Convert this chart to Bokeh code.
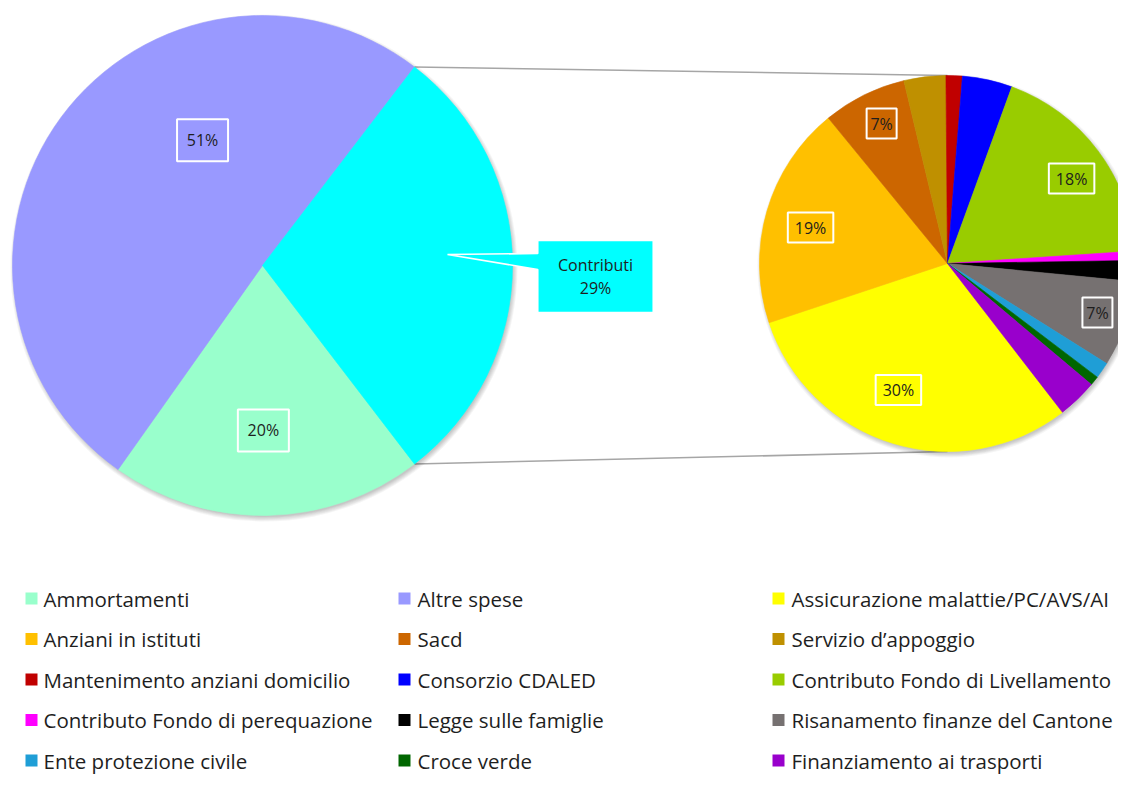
import math
from bokeh.plotting import figure
from bokeh.models import Range1d
from bokeh.embed import file_html
from bokeh.resources import INLINE
from bokeh.core.properties import value

# ---------------- data ----------------
main_categories = ["Ammortamenti", "Altre spese", "Contributi"]
main_values = [20.2, 50.6, 29.2]
main_colors = ["#99FFCC", "#9999FF", "#00FFFF"]

sub_categories = [
    "Assicurazione malattie/PC/AVS/AI",
    "Anziani in istituti",
    "Sacd",
    "Servizio d\u2019appoggio",
    "Mantenimento anziani domicilio",
    "Consorzio CDALED",
    "Contributo Fondo di Livellamento",
    "Contributo Fondo di perequazione",
    "Legge sulle famiglie",
    "Risanamento finanze del Cantone",
    "Ente protezione civile",
    "Croce verde",
    "Finanziamento ai trasporti",
]
sub_values = [30.4, 19.2, 7.2, 3.6, 1.4, 4.3, 18.4, 0.8, 1.8, 7.4, 1.4, 0.8, 3.4]
sub_colors = ["#FFFF00", "#FFC000", "#CC6600", "#BF9000", "#C00000", "#0000FF",
              "#99CC00", "#FF00FF", "#000000", "#767171", "#1F9ED6", "#006600",
              "#9900CC"]

# ---------------- layout (picture pixel coords, y down) ----------------
W, H = 1118, 774
FONT = value("Open Sans")
TXT = "#1e1e1e"

L_CX, L_CY, L_R = 262, 265, 250
R_CX, R_CY, R_R = 947, 263, 188
R_START = 142.3  # clockwise degrees from 12 o'clock where the second pie starts

# label placement: (clockwise angle from top, fraction of radius)
left_label_pos = {"Altre spese": (334.4, 0.555), "Ammortamenti": (179.7, 0.66)}
right_label_pos = {
    "Assicurazione malattie/PC/AVS/AI": (201.2, 0.722),
    "Anziani in istituti": (284.7, 0.753),
    "Sacd": (334.8, 0.823),
    "Contributo Fondo di Livellamento": (55.6, 0.80),
    "Risanamento finanze del Cantone": (108.1, 0.839),
}

CALLOUT_CX, CALLOUT_CY, CALLOUT_W, CALLOUT_H = 595, 276, 115.5, 72
CALLOUT_TIP = (447, 254)
CALLOUT_BASE = (253, 269)

LEG_MARK_X = [25, 398, 772]
LEG_TEXT_X = [43, 417, 791]
LEG_ROW_Y0, LEG_ROW_DY = 598, 40.5


def Y(y):
    return 790 - y


p = figure(width=W, height=H, output_backend="svg", toolbar_location=None,
           x_range=Range1d(0, W), y_range=Range1d(790 - H, 790),
           x_axis_location=None, y_axis_location=None, min_border=0,
           outline_line_color=None, background_fill_color="white",
           border_fill_color="white")
p.xgrid.visible = False
p.ygrid.visible = False


def slices(values, start_cw):
    tot = float(sum(values))
    out = []
    a = start_cw
    for v in values:
        b = a + v / tot * 360.0
        out.append((a, b))
        a = b
    return out


def polar(cx, cy, r, ang_cw, frac=1.0):
    t = math.radians(ang_cw)
    return cx + r * frac * math.sin(t), cy - r * frac * math.cos(t)


# --- left pie geometry: "Contributi" (last) centred on the right
contrib_share = main_values[2] / float(sum(main_values))
L_START = 90 + contrib_share * 360 / 2
left_sl = slices(main_values, L_START)
right_sl = slices(sub_values, R_START)

# connector lines
c_a, c_b = left_sl[2]
p1 = polar(L_CX, L_CY, L_R, c_a)
p2 = polar(L_CX, L_CY, L_R, c_b)
p.line([p1[0], R_CX], [Y(p1[1]), Y(R_CY - R_R)], line_color="#A6A6A6", line_width=1.6)
p.line([p2[0], R_CX], [Y(p2[1]), Y(R_CY + R_R)], line_color="#A6A6A6", line_width=1.6)

# shadows
for cx, cy, r in [(L_CX, L_CY, L_R), (R_CX, R_CY, R_R)]:
    for k in range(6):
        p.circle(x=[cx + 1.5], y=[Y(cy + 2.5)], radius=r - 1 + k * 0.9,
                 fill_color="black", fill_alpha=0.04, line_color=None)


def draw_pie(cx, cy, r, sl, colors):
    starts = [math.radians(90 - b) for a, b in sl]
    ends = [math.radians(90 - a) for a, b in sl]
    p.wedge(x=[cx] * len(sl), y=[Y(cy)] * len(sl), radius=r,
            start_angle=starts, end_angle=ends, direction="anticlock",
            fill_color=colors, line_color=colors, line_width=0.6)


draw_pie(L_CX, L_CY, L_R, left_sl, main_colors)
draw_pie(R_CX, R_CY, R_R, right_sl, sub_colors)


def pct(v, vals):
    return "%d%%" % round(v / float(sum(vals)) * 100)


# data labels (boxed)
lx, ly, lt, bw, bh = [], [], [], [], []
for name, v in zip(main_categories, main_values):
    if name in left_label_pos:
        ang, fr = left_label_pos[name]
        x, y = polar(L_CX, L_CY, L_R, ang, fr)
        lx.append(x); ly.append(Y(y)); lt.append(pct(v, main_values))
        bw.append(51); bh.append(42)
for name, v in zip(sub_categories, sub_values):
    if name in right_label_pos:
        ang, fr = right_label_pos[name]
        x, y = polar(R_CX, R_CY, R_R, ang, fr)
        t = pct(v, sub_values)
        lx.append(x); ly.append(Y(y)); lt.append(t)
        bw.append(14 + 15.5 * (len(t) - 1) + 0.5); bh.append(30)

p.rect(x=lx, y=ly, width=bw, height=bh, fill_alpha=0, line_color="white", line_width=2)
p.text(x=lx, y=ly, text=lt, text_font=FONT, text_font_size="16px",
       text_align="center", text_baseline="middle", text_color=TXT)

# callout for "Contributi"
x0, x1 = CALLOUT_CX - CALLOUT_W / 2, CALLOUT_CX + CALLOUT_W / 2
y0, y1 = CALLOUT_CY - CALLOUT_H / 2, CALLOUT_CY + CALLOUT_H / 2
cxs = [x0, x1, x1, x0, x0, CALLOUT_TIP[0], x0]
cys = [y0, y0, y1, y1, CALLOUT_BASE[1], CALLOUT_TIP[1], CALLOUT_BASE[0]]
p.patch(x=cxs, y=[Y(v) for v in cys], fill_color=main_colors[2],
        line_color="white", line_width=1.6)
p.text(x=[CALLOUT_CX, CALLOUT_CX], y=[Y(CALLOUT_CY - 11.5), Y(CALLOUT_CY + 11.5)],
       text=[main_categories[2], pct(main_values[2], main_values)],
       text_font=FONT, text_font_size="16px", text_align="center",
       text_baseline="middle", text_color=TXT)

# legend (3 columns, row-major)
leg_names = main_categories[:2] + sub_categories
leg_colors = main_colors[:2] + sub_colors
mx, my, tx, ty = [], [], [], []
for i, name in enumerate(leg_names):
    row, col = divmod(i, 3)
    yy = LEG_ROW_Y0 + row * LEG_ROW_DY
    mx.append(LEG_MARK_X[col] + 6); my.append(Y(yy))
    tx.append(LEG_TEXT_X[col]); ty.append(Y(yy))
p.rect(x=mx, y=my, width=12, height=12, fill_color=leg_colors, line_color=None)
p.text(x=tx, y=ty, text=leg_names, text_font=FONT, text_font_size="20.5px",
       text_align="left", text_baseline="middle", text_color=TXT)

open("out.html", "w").write(file_html(p, INLINE))
